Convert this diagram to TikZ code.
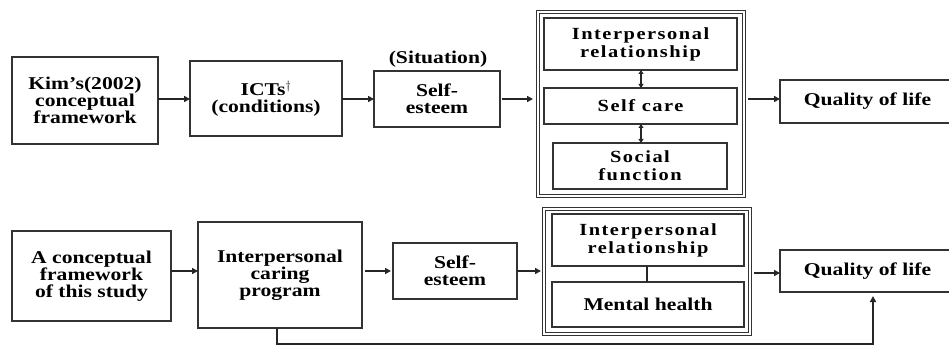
\documentclass[tikz,border=0pt]{standalone}
\usepackage{fontspec}
\setmainfont{Liberation Serif}[FakeStretch=1.2]
\newfontfamily\spaced{Liberation Serif}[FakeStretch=1.2,LetterSpace=9]
\usetikzlibrary{arrows.meta,calc}
\begin{document}
\begin{tikzpicture}[x=1pt,y=-1pt,
  box/.style={draw=black!80,line width=1.6pt,inner sep=0pt,outer sep=0pt,align=center,
    font=\fontsize{18}{17}\selectfont\bfseries},
  ibox/.style={box,font=\fontsize{17}{18}\selectfont\spaced\bfseries},
  outerbox/.style={draw=black!80,double,line width=1pt,double distance=2.6pt,inner sep=0pt,outer sep=0pt},
  arr/.style={draw=black!85,line width=1.5pt,-{Triangle[length=6pt,width=6pt]}},
  darr/.style={draw=black!85,line width=1.5pt,{Triangle[length=4pt,width=5pt]}-{Triangle[length=4pt,width=5pt]}},
  ln/.style={draw=black!85,line width=1.5pt}]
\useasboundingbox (0,0) rectangle (949,347);
\clip (0,0) rectangle (949,347);
\fill[white] (0,0) rectangle (949,347);
% top row
\node[box,minimum width=146pt,minimum height=87pt] (kim) at (85,100.5) {Kim's(2002)\\conceptual\\framework};
\node[box,minimum width=152pt,minimum height=75pt] (icts) at (266,98.5) {ICTs$^{\dagger}$\\(conditions)};
\node[box,minimum width=126pt,minimum height=56pt] (se1) at (437,99) {Self-\\esteem};
\node[font=\fontsize{18}{17}\selectfont\bfseries,inner sep=0pt] (sit) at (438,59) {(Situation)};
\node[outerbox,minimum width=206pt,minimum height=184pt] (out1) at (641,104) {};
\node[ibox,minimum width=193pt,minimum height=52pt] (ir1) at (640.5,44) {Interpersonal\\relationship};
\node[ibox,minimum width=193pt,minimum height=36pt] (sc1) at (640.5,106) {Self care};
\node[ibox,minimum width=174pt,minimum height=46pt] (sf1) at (640,166) {Social\\function};
\node[box,minimum width=175pt,minimum height=43pt] (qol1) at (867.5,101.5) {Quality of life};
\draw[arr] (kim.east |- 0,99) -- (icts.west |- 0,99);
\draw[arr] (icts.east |- 0,99) -- (se1.west |- 0,99);
\draw[arr] ($(se1.east)+(2,0)$) -- ($(out1.west |- se1.east)+(-5,0)$);
\draw[arr] ($(out1.east |- 0,99)+(4,0)$) -- (qol1.west |- 0,99);
\draw[darr] (ir1.south -| 641,0) -- (sc1.north -| 641,0);
\draw[darr] (sc1.south -| 641,0) -- (sf1.north -| 641,0);
% bottom row
\node[box,minimum width=159pt,minimum height=90pt] (acf) at (91.5,276) {A conceptual\\framework\\of this study};
\node[box,minimum width=164pt,minimum height=106pt] (icp) at (280,275) {Interpersonal\\caring\\program};
\node[box,minimum width=124pt,minimum height=56pt] (se2) at (455,271) {Self-\\esteem};
\node[outerbox,minimum width=206pt,minimum height=125pt] (out2) at (647,271.5) {};
\node[ibox,minimum width=192pt,minimum height=52pt] (ir2) at (648,240) {Interpersonal\\relationship};
\node[box,minimum width=192pt,minimum height=45pt] (mh) at (648,304.5) {Mental health};
\node[box,minimum width=175pt,minimum height=42pt] (qol2) at (867.5,271) {Quality of life};
\draw[arr] (acf.east |- 0,271) -- (icp.west |- 0,271);
\draw[arr] ($(icp.east |- 0,271)+(3,0)$) -- ($(se2.west |- 0,271)+(-2,0)$);
\draw[arr] (se2.east |- 0,271) -- ($(out2.west |- 0,271)+(-3,0)$);
\draw[arr] ($(out2.east |- 0,273)+(4,0)$) -- (qol2.west |- 0,273);
\draw[ln] (ir2.south -| 647,0) -- (mh.north -| 647,0);
\coordinate (fb1) at (277,344);
\coordinate (fb2) at (873,344);
\draw[arr] (icp.south -| fb1) -- (fb1) -- (fb2) -- ($(qol2.south -| fb2)+(0,4)$);
\end{tikzpicture}
\end{document}
